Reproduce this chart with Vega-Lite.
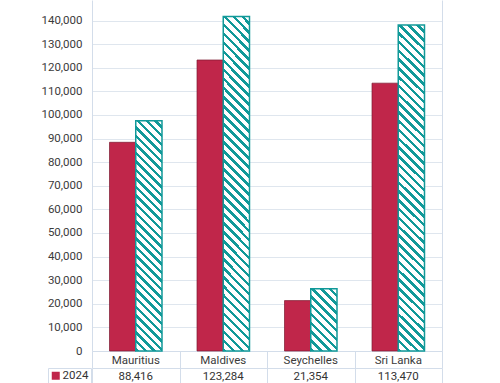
{
"$schema": "https://vega.github.io/schema/vega-lite/v6.json",
"padding": {"left": 40, "top": 0, "right": 0, "bottom": 0},
"background": "white",
"bounds": "flush",
"spacing": 17,
"data": {"values": [
{"country": "Mauritius", "year": "2024", "value": 88416},
{"country": "Mauritius", "year": "2025", "value": 97500},
{"country": "Maldives", "year": "2024", "value": 123284},
{"country": "Maldives", "year": "2025", "value": 141700},
{"country": "Seychelles", "year": "2024", "value": 21354},
{"country": "Seychelles", "year": "2025", "value": 26400},
{"country": "Sri Lanka", "year": "2024", "value": 113470},
{"country": "Sri Lanka", "year": "2025", "value": 138100}
]},
"config": {
"view": {"stroke": null},
"font": "Roboto",
"axis": {"labelFont": "Roboto", "labelFontSize": 11.5, "labelColor": "#3b3b3b", "gridColor": "#dfe6ee", "domainColor": "#d3ddea", "tickColor": "#d3ddea", "title": null}
},
"vconcat": [
{
"width": 350,
"height": 351,
"layer": [
{
"transform": [{"filter": "datum.year === '2024'"}],
"mark": {"type": "bar", "stroke": "#7d1a30", "strokeWidth": 0.7},
"encoding": {
"x": {"field": "country", "type": "nominal", "scale": {"domain": ["Mauritius", "Maldives", "Seychelles", "Sri Lanka"], "paddingInner": 0, "paddingOuter": 0}, "axis": {"orient": "bottom", "ticks": false, "domain": true, "labelPadding": 3, "labelAngle": 0, "labelFontSize": 11.5, "grid": false}},
"xOffset": {"field": "year", "type": "nominal", "scale": {"domain": ["2024", "2025"], "paddingInner": 0, "paddingOuter": 0.6667}},
"y": {"field": "value", "type": "quantitative", "scale": {"domain": [0, 148700], "nice": false}, "axis": {"values": [0, 10000, 20000, 30000, 40000, 50000, 60000, 70000, 80000, 90000, 100000, 110000, 120000, 130000, 140000], "format": ",d", "ticks": false, "labelPadding": 10, "grid": true, "domain": true}},
"color": {"field": "year", "type": "nominal", "scale": {"domain": ["2024"], "range": ["#c0264a"]}, "legend": {"orient": "none", "legendX": -44, "legendY": 368, "title": null, "strokeColor": "#d3ddea", "padding": 2, "symbolType": "square", "symbolSize": 64, "symbolStrokeWidth": 0, "labelFontSize": 11.5, "labelFont": "Roboto", "labelColor": "#333333", "labelOffset": 1}}
}
},
{
"transform": [{"filter": "datum.year === '2025' && (datum.country === 'Maldives' || datum.country === 'Sri Lanka')"}],
"mark": {"type": "bar", "stroke": "#199", "strokeWidth": 1.5, "fill": {"gradient": "linear", "x1": 0, "y1": 1, "x2": 0.0853, "y2": -0.0727, "stops": [
{"offset":0,"color":"#199"},{"offset":0.01,"color":"#199"},{"offset":0.01,"color":"#fff"},{"offset":0.025,"color":"#fff"},
{"offset":0.025,"color":"#199"},{"offset":0.035,"color":"#199"},{"offset":0.035,"color":"#fff"},{"offset":0.05,"color":"#fff"},
{"offset":0.05,"color":"#199"},{"offset":0.06,"color":"#199"},{"offset":0.06,"color":"#fff"},{"offset":0.075,"color":"#fff"},
{"offset":0.075,"color":"#199"},{"offset":0.085,"color":"#199"},{"offset":0.085,"color":"#fff"},{"offset":0.1,"color":"#fff"},
{"offset":0.1,"color":"#199"},{"offset":0.11,"color":"#199"},{"offset":0.11,"color":"#fff"},{"offset":0.125,"color":"#fff"},
{"offset":0.125,"color":"#199"},{"offset":0.135,"color":"#199"},{"offset":0.135,"color":"#fff"},{"offset":0.15,"color":"#fff"},
{"offset":0.15,"color":"#199"},{"offset":0.16,"color":"#199"},{"offset":0.16,"color":"#fff"},{"offset":0.175,"color":"#fff"},
{"offset":0.175,"color":"#199"},{"offset":0.185,"color":"#199"},{"offset":0.185,"color":"#fff"},{"offset":0.2,"color":"#fff"},
{"offset":0.2,"color":"#199"},{"offset":0.21,"color":"#199"},{"offset":0.21,"color":"#fff"},{"offset":0.225,"color":"#fff"},
{"offset":0.225,"color":"#199"},{"offset":0.235,"color":"#199"},{"offset":0.235,"color":"#fff"},{"offset":0.25,"color":"#fff"},
{"offset":0.25,"color":"#199"},{"offset":0.26,"color":"#199"},{"offset":0.26,"color":"#fff"},{"offset":0.275,"color":"#fff"},
{"offset":0.275,"color":"#199"},{"offset":0.285,"color":"#199"},{"offset":0.285,"color":"#fff"},{"offset":0.3,"color":"#fff"},
{"offset":0.3,"color":"#199"},{"offset":0.31,"color":"#199"},{"offset":0.31,"color":"#fff"},{"offset":0.325,"color":"#fff"},
{"offset":0.325,"color":"#199"},{"offset":0.335,"color":"#199"},{"offset":0.335,"color":"#fff"},{"offset":0.35,"color":"#fff"},
{"offset":0.35,"color":"#199"},{"offset":0.36,"color":"#199"},{"offset":0.36,"color":"#fff"},{"offset":0.375,"color":"#fff"},
{"offset":0.375,"color":"#199"},{"offset":0.385,"color":"#199"},{"offset":0.385,"color":"#fff"},{"offset":0.4,"color":"#fff"},
{"offset":0.4,"color":"#199"},{"offset":0.41,"color":"#199"},{"offset":0.41,"color":"#fff"},{"offset":0.425,"color":"#fff"},
{"offset":0.425,"color":"#199"},{"offset":0.435,"color":"#199"},{"offset":0.435,"color":"#fff"},{"offset":0.45,"color":"#fff"},
{"offset":0.45,"color":"#199"},{"offset":0.46,"color":"#199"},{"offset":0.46,"color":"#fff"},{"offset":0.475,"color":"#fff"},
{"offset":0.475,"color":"#199"},{"offset":0.485,"color":"#199"},{"offset":0.485,"color":"#fff"},{"offset":0.5,"color":"#fff"},
{"offset":0.5,"color":"#199"},{"offset":0.51,"color":"#199"},{"offset":0.51,"color":"#fff"},{"offset":0.525,"color":"#fff"},
{"offset":0.525,"color":"#199"},{"offset":0.535,"color":"#199"},{"offset":0.535,"color":"#fff"},{"offset":0.55,"color":"#fff"},
{"offset":0.55,"color":"#199"},{"offset":0.56,"color":"#199"},{"offset":0.56,"color":"#fff"},{"offset":0.575,"color":"#fff"},
{"offset":0.575,"color":"#199"},{"offset":0.585,"color":"#199"},{"offset":0.585,"color":"#fff"},{"offset":0.6,"color":"#fff"},
{"offset":0.6,"color":"#199"},{"offset":0.61,"color":"#199"},{"offset":0.61,"color":"#fff"},{"offset":0.625,"color":"#fff"},
{"offset":0.625,"color":"#199"},{"offset":0.635,"color":"#199"},{"offset":0.635,"color":"#fff"},{"offset":0.65,"color":"#fff"},
{"offset":0.65,"color":"#199"},{"offset":0.66,"color":"#199"},{"offset":0.66,"color":"#fff"},{"offset":0.675,"color":"#fff"},
{"offset":0.675,"color":"#199"},{"offset":0.685,"color":"#199"},{"offset":0.685,"color":"#fff"},{"offset":0.7,"color":"#fff"},
{"offset":0.7,"color":"#199"},{"offset":0.71,"color":"#199"},{"offset":0.71,"color":"#fff"},{"offset":0.725,"color":"#fff"},
{"offset":0.725,"color":"#199"},{"offset":0.735,"color":"#199"},{"offset":0.735,"color":"#fff"},{"offset":0.75,"color":"#fff"},
{"offset":0.75,"color":"#199"},{"offset":0.76,"color":"#199"},{"offset":0.76,"color":"#fff"},{"offset":0.775,"color":"#fff"},
{"offset":0.775,"color":"#199"},{"offset":0.785,"color":"#199"},{"offset":0.785,"color":"#fff"},{"offset":0.8,"color":"#fff"},
{"offset":0.8,"color":"#199"},{"offset":0.81,"color":"#199"},{"offset":0.81,"color":"#fff"},{"offset":0.825,"color":"#fff"},
{"offset":0.825,"color":"#199"},{"offset":0.835,"color":"#199"},{"offset":0.835,"color":"#fff"},{"offset":0.85,"color":"#fff"},
{"offset":0.85,"color":"#199"},{"offset":0.86,"color":"#199"},{"offset":0.86,"color":"#fff"},{"offset":0.875,"color":"#fff"},
{"offset":0.875,"color":"#199"},{"offset":0.885,"color":"#199"},{"offset":0.885,"color":"#fff"},{"offset":0.9,"color":"#fff"},
{"offset":0.9,"color":"#199"},{"offset":0.91,"color":"#199"},{"offset":0.91,"color":"#fff"},{"offset":0.925,"color":"#fff"},
{"offset":0.925,"color":"#199"},{"offset":0.935,"color":"#199"},{"offset":0.935,"color":"#fff"},{"offset":0.95,"color":"#fff"},
{"offset":0.95,"color":"#199"},{"offset":0.96,"color":"#199"},{"offset":0.96,"color":"#fff"},{"offset":0.975,"color":"#fff"},
{"offset":0.975,"color":"#199"},{"offset":0.985,"color":"#199"},{"offset":0.985,"color":"#fff"},{"offset":1,"color":"#fff"}
]}},
"encoding": {
"x": {"field": "country", "type": "nominal", "scale": {"domain": ["Mauritius", "Maldives", "Seychelles", "Sri Lanka"]}},
"xOffset": {"field": "year", "type": "nominal", "scale": {"domain": ["2024", "2025"]}},
"y": {"field": "value", "type": "quantitative", "axis": null}
}
},
{
"transform": [{"filter": "datum.year === '2025' && datum.country === 'Mauritius'"}],
"mark": {"type": "bar", "stroke": "#199", "strokeWidth": 1.5, "fill": {"gradient": "linear", "x1": 0, "y1": 1, "x2": 0.1254, "y2": -0.0998, "stops": [
{"offset":0,"color":"#199"},{"offset":0.0133,"color":"#199"},{"offset":0.0133,"color":"#fff"},{"offset":0.0333,"color":"#fff"},
{"offset":0.0333,"color":"#199"},{"offset":0.0467,"color":"#199"},{"offset":0.0467,"color":"#fff"},{"offset":0.0667,"color":"#fff"},
{"offset":0.0667,"color":"#199"},{"offset":0.08,"color":"#199"},{"offset":0.08,"color":"#fff"},{"offset":0.1,"color":"#fff"},
{"offset":0.1,"color":"#199"},{"offset":0.1133,"color":"#199"},{"offset":0.1133,"color":"#fff"},{"offset":0.1333,"color":"#fff"},
{"offset":0.1333,"color":"#199"},{"offset":0.1467,"color":"#199"},{"offset":0.1467,"color":"#fff"},{"offset":0.1667,"color":"#fff"},
{"offset":0.1667,"color":"#199"},{"offset":0.18,"color":"#199"},{"offset":0.18,"color":"#fff"},{"offset":0.2,"color":"#fff"},
{"offset":0.2,"color":"#199"},{"offset":0.2133,"color":"#199"},{"offset":0.2133,"color":"#fff"},{"offset":0.2333,"color":"#fff"},
{"offset":0.2333,"color":"#199"},{"offset":0.2467,"color":"#199"},{"offset":0.2467,"color":"#fff"},{"offset":0.2667,"color":"#fff"},
{"offset":0.2667,"color":"#199"},{"offset":0.28,"color":"#199"},{"offset":0.28,"color":"#fff"},{"offset":0.3,"color":"#fff"},
{"offset":0.3,"color":"#199"},{"offset":0.3133,"color":"#199"},{"offset":0.3133,"color":"#fff"},{"offset":0.3333,"color":"#fff"},
{"offset":0.3333,"color":"#199"},{"offset":0.3467,"color":"#199"},{"offset":0.3467,"color":"#fff"},{"offset":0.3667,"color":"#fff"},
{"offset":0.3667,"color":"#199"},{"offset":0.38,"color":"#199"},{"offset":0.38,"color":"#fff"},{"offset":0.4,"color":"#fff"},
{"offset":0.4,"color":"#199"},{"offset":0.4133,"color":"#199"},{"offset":0.4133,"color":"#fff"},{"offset":0.4333,"color":"#fff"},
{"offset":0.4333,"color":"#199"},{"offset":0.4467,"color":"#199"},{"offset":0.4467,"color":"#fff"},{"offset":0.4667,"color":"#fff"},
{"offset":0.4667,"color":"#199"},{"offset":0.48,"color":"#199"},{"offset":0.48,"color":"#fff"},{"offset":0.5,"color":"#fff"},
{"offset":0.5,"color":"#199"},{"offset":0.5133,"color":"#199"},{"offset":0.5133,"color":"#fff"},{"offset":0.5333,"color":"#fff"},
{"offset":0.5333,"color":"#199"},{"offset":0.5467,"color":"#199"},{"offset":0.5467,"color":"#fff"},{"offset":0.5667,"color":"#fff"},
{"offset":0.5667,"color":"#199"},{"offset":0.58,"color":"#199"},{"offset":0.58,"color":"#fff"},{"offset":0.6,"color":"#fff"},
{"offset":0.6,"color":"#199"},{"offset":0.6133,"color":"#199"},{"offset":0.6133,"color":"#fff"},{"offset":0.6333,"color":"#fff"},
{"offset":0.6333,"color":"#199"},{"offset":0.6467,"color":"#199"},{"offset":0.6467,"color":"#fff"},{"offset":0.6667,"color":"#fff"},
{"offset":0.6667,"color":"#199"},{"offset":0.68,"color":"#199"},{"offset":0.68,"color":"#fff"},{"offset":0.7,"color":"#fff"},
{"offset":0.7,"color":"#199"},{"offset":0.7133,"color":"#199"},{"offset":0.7133,"color":"#fff"},{"offset":0.7333,"color":"#fff"},
{"offset":0.7333,"color":"#199"},{"offset":0.7467,"color":"#199"},{"offset":0.7467,"color":"#fff"},{"offset":0.7667,"color":"#fff"},
{"offset":0.7667,"color":"#199"},{"offset":0.78,"color":"#199"},{"offset":0.78,"color":"#fff"},{"offset":0.8,"color":"#fff"},
{"offset":0.8,"color":"#199"},{"offset":0.8133,"color":"#199"},{"offset":0.8133,"color":"#fff"},{"offset":0.8333,"color":"#fff"},
{"offset":0.8333,"color":"#199"},{"offset":0.8467,"color":"#199"},{"offset":0.8467,"color":"#fff"},{"offset":0.8667,"color":"#fff"},
{"offset":0.8667,"color":"#199"},{"offset":0.88,"color":"#199"},{"offset":0.88,"color":"#fff"},{"offset":0.9,"color":"#fff"},
{"offset":0.9,"color":"#199"},{"offset":0.9133,"color":"#199"},{"offset":0.9133,"color":"#fff"},{"offset":0.9333,"color":"#fff"},
{"offset":0.9333,"color":"#199"},{"offset":0.9467,"color":"#199"},{"offset":0.9467,"color":"#fff"},{"offset":0.9667,"color":"#fff"},
{"offset":0.9667,"color":"#199"},{"offset":0.98,"color":"#199"},{"offset":0.98,"color":"#fff"},{"offset":1,"color":"#fff"}
]}},
"encoding": {
"x": {"field": "country", "type": "nominal", "scale": {"domain": ["Mauritius", "Maldives", "Seychelles", "Sri Lanka"]}},
"xOffset": {"field": "year", "type": "nominal", "scale": {"domain": ["2024", "2025"]}},
"y": {"field": "value", "type": "quantitative", "axis": null}
}
},
{
"transform": [{"filter": "datum.year === '2025' && datum.country === 'Seychelles'"}],
"mark": {"type": "bar", "stroke": "#199", "strokeWidth": 1.5, "fill": {"gradient": "linear", "x1": 0, "y1": 1, "x2": 0.5084, "y2": -0.207, "stops": [
{"offset":0,"color":"#199"},{"offset":0.04,"color":"#199"},{"offset":0.04,"color":"#fff"},{"offset":0.1,"color":"#fff"},
{"offset":0.1,"color":"#199"},{"offset":0.14,"color":"#199"},{"offset":0.14,"color":"#fff"},{"offset":0.2,"color":"#fff"},
{"offset":0.2,"color":"#199"},{"offset":0.24,"color":"#199"},{"offset":0.24,"color":"#fff"},{"offset":0.3,"color":"#fff"},
{"offset":0.3,"color":"#199"},{"offset":0.34,"color":"#199"},{"offset":0.34,"color":"#fff"},{"offset":0.4,"color":"#fff"},
{"offset":0.4,"color":"#199"},{"offset":0.44,"color":"#199"},{"offset":0.44,"color":"#fff"},{"offset":0.5,"color":"#fff"},
{"offset":0.5,"color":"#199"},{"offset":0.54,"color":"#199"},{"offset":0.54,"color":"#fff"},{"offset":0.6,"color":"#fff"},
{"offset":0.6,"color":"#199"},{"offset":0.64,"color":"#199"},{"offset":0.64,"color":"#fff"},{"offset":0.7,"color":"#fff"},
{"offset":0.7,"color":"#199"},{"offset":0.74,"color":"#199"},{"offset":0.74,"color":"#fff"},{"offset":0.8,"color":"#fff"},
{"offset":0.8,"color":"#199"},{"offset":0.84,"color":"#199"},{"offset":0.84,"color":"#fff"},{"offset":0.9,"color":"#fff"},
{"offset":0.9,"color":"#199"},{"offset":0.94,"color":"#199"},{"offset":0.94,"color":"#fff"},{"offset":1,"color":"#fff"}
]}},
"encoding": {
"x": {"field": "country", "type": "nominal", "scale": {"domain": ["Mauritius", "Maldives", "Seychelles", "Sri Lanka"]}},
"xOffset": {"field": "year", "type": "nominal", "scale": {"domain": ["2024", "2025"]}},
"y": {"field": "value", "type": "quantitative", "axis": {"orient": "right", "labels": false, "ticks": false, "grid": false, "domain": true}}
}
}
],
"resolve": {"axis": {"y": "independent"}}
},
{
"width": 350,
"height": 15,
"transform": [{"filter": "datum.year === '2024'"}],
"mark": {"type": "text", "fontSize": 11.5, "color": "#333333", "dy": 1, "font": "Roboto"},
"encoding": {
"x": {"field": "country", "type": "nominal", "scale": {"domain": ["Mauritius", "Maldives", "Seychelles", "Sri Lanka"], "paddingInner": 0, "paddingOuter": 0}, "axis": {"orient": "top", "labels": false, "ticks": true, "tickSize": 17, "tickBand": "extent", "grid": true, "gridColor": "#d3ddea", "domain": true}},
"text": {"field": "value", "type": "quantitative", "format": ","}
}
}
]
}
